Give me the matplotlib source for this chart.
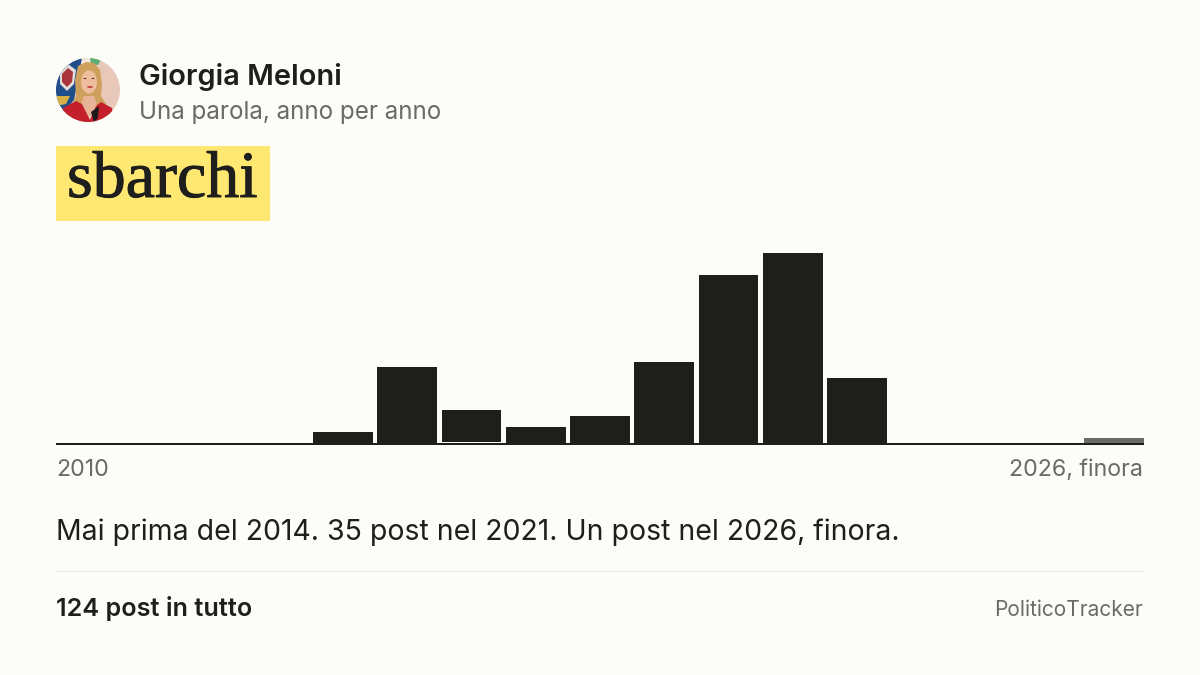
import numpy as np
import matplotlib
matplotlib.use('Agg')
import matplotlib.pyplot as plt
from matplotlib.patches import Circle, Rectangle, Ellipse, Polygon
import matplotlib.patheffects as pe

# posts per year
years = [2010, 2011, 2012, 2013, 2014, 2015, 2016, 2017, 2018, 2019, 2020, 2021, 2022, 2023, 2024, 2025, 2026]
posts = [0, 0, 0, 0, 2, 14, 6, 3, 5, 15, 31, 35, 12, 0, 0, 0, 1]
last_partial = 2026
lifted_year = 2016  # this bar floats just above the baseline in the original

name = 'Giorgia Meloni'
subtitle = 'Una parola, anno per anno'
word = 'sbarchi'
first_label = '2010'
last_label = '2026, finora'
summary = 'Mai prima del 2014. 35 post nel 2021. Un post nel 2026, finora.'
total = '124 post in tutto'
brand = 'PoliticoTracker'

BG = '#fcfcf8'
INK = '#1e1e1c'
GREY = '#6b6b66'
YELLOW = '#ffe872'
RULE = '#e4e4e0'
W, H = 1200., 675.


def px(size):
    return size * 72. / 100.


def draw_avatar(ax):
    # rough painting of the round portrait
    clip = Circle((88, 90), 32, transform=ax.transData)
    shapes = [
        Rectangle((56, 58), 64, 64, color='#e8c8b8'),
        Rectangle((80, 58), 12, 10, color='#f0e6da'),
        Polygon([(90, 58), (102, 58), (98, 65), (91, 64)], color='#5cae72'),
        Polygon([(56, 58), (82, 58), (74, 100), (64, 112), (56, 112)], color='#1f4e8a'),
        Polygon([(60, 72), (68, 64), (76, 70), (74, 84), (67, 91), (60, 84)], color='#e4dcd8'),
        Polygon([(62, 74), (68, 68), (73, 72), (72, 82), (67, 87), (62, 82)], color='#a8343c'),
        Polygon([(56, 96), (70, 96), (66, 104), (56, 106)], color='#d8b048'),
        Polygon([(78, 66), (86, 62), (94, 63), (100, 70), (102, 84), (101, 96), (106, 104),
                 (98, 108), (80, 108), (72, 106), (76, 96), (75, 80)], color='#cfa05c'),
        Polygon([(80, 108), (84, 96), (94, 96), (98, 108), (92, 116), (88, 116)], color='#e8b498'),
        Polygon([(63, 108), (76, 101), (82, 104), (90, 120), (96, 106), (101, 102), (112, 108),
                 (114, 124), (62, 124)], color='#c4202c'),
        Polygon([(91, 112), (99, 106), (98, 118), (94, 122)], color='#1c1a1a'),
        Ellipse((89, 82), 16, 23, color='#eebd9e'),
        Ellipse((90, 87), 6, 1.8, color='#c23a40'),
        Ellipse((85, 78.5), 3, 1.2, color='#5a3a2a'),
        Ellipse((93, 78.5), 3, 1.2, color='#5a3a2a'),
    ]
    for s in shapes:
        ax.add_patch(s)
        s.set_clip_path(clip)
        s.set_linewidth(0)


plt.rcParams['font.family'] = ['Inter', 'DejaVu Sans']
fig = plt.figure(facecolor=BG, figsize=(12., 6.75), dpi=100)

# page overlay, in pixel coordinates
page = fig.add_axes([0, 0, 1, 1])
page.set_xlim(0, W)
page.set_ylim(H, 0)
page.set_axis_off()

draw_avatar(page)
page.text(139, 74, name, fontsize=px(29), fontweight='semibold', color=INK, va='center_baseline')
page.text(139, 109.5, subtitle, fontsize=px(24.2), color=GREY, va='center_baseline')

page.add_patch(Rectangle((56, 146), 214, 75, color=YELLOW, lw=0))
page.text(67, 197, word, fontsize=px(66), family=['Liberation Serif'], color=INK, va='baseline',
          path_effects=[pe.withStroke(linewidth=0.7, foreground=INK)])

page.text(56, 468, first_label, fontsize=px(23.2), color=GREY, va='center_baseline')
page.text(1143, 468, last_label, fontsize=px(23.2), color=GREY, ha='right', va='center_baseline')
page.text(56, 529, summary, fontsize=px(28.4), color=INK, va='center_baseline')
page.add_patch(Rectangle((56, 571), 1088, 1, color=RULE, lw=0))
page.text(56, 606, total, fontsize=px(25.2), fontweight='semibold', color=INK, va='center_baseline')
page.text(1143, 608, brand, fontsize=px(20.9), color=GREY, ha='right', va='center_baseline')

# bars: zero sits at y=443 px, tallest bar top at y=253 px
ax = fig.add_axes([56 / W, 1 - 443 / H, 1088 / W, 190 / H], facecolor='none')
colors = [GREY if y == last_partial else INK for y in years]
width = 60. / 64.25
lift = 1.3 * max(posts) / 190.
bottoms = [lift if y == lifted_year else 0 for y in years]
heights = [p - b for p, b in zip(posts, bottoms)]
ax.bar(years, heights, bottom=bottoms, width=width, color=colors, linewidth=0)
ax.set_xlim(years[0] - width / 2, years[-1] + width / 2)
ax.set_ylim(0, max(posts))
ax.set_xticks([])
ax.set_yticks([])
for side in ['top', 'left', 'right']:
    ax.spines[side].set_visible(False)
ax.spines['bottom'].set_position(('outward', px(1)))
ax.spines['bottom'].set_linewidth(px(2))
ax.spines['bottom'].set_color(INK)
ax.spines['bottom'].set_capstyle('butt')

fig.savefig('out.png', dpi=100, facecolor=BG)
plt.close()
